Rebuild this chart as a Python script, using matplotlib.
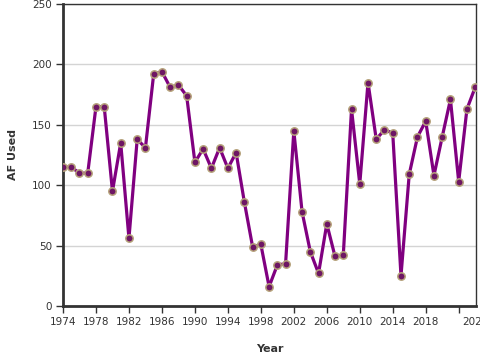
import numpy as np
import matplotlib
matplotlib.use("Agg")
import matplotlib.pyplot as plt
import matplotlib.transforms as mtransforms

years = list(range(1974, 2025))
af_used = [115, 115, 110, 110, 165, 165, 95, 135, 56, 138,
           131, 192, 194, 181, 183, 174, 119, 130, 114, 131,
           114, 127, 86, 49, 51, 16, 34, 35, 145, 78,
           45, 27, 68, 41, 42, 163, 101, 185, 138, 146,
           143, 25, 109, 140, 153, 108, 140, 171, 103, 163, 181]
xticks = list(range(1974, 2023, 4))
yticks = [0, 50, 100, 150, 200, 250]

fig = plt.figure(figsize=(4.8, 3.6), dpi=100)
ax = fig.add_axes([63/480, 1-306/360, (476-63)/480, (306-4)/360])

ax.plot(years, af_used, color="#800080", lw=2.3, zorder=3,
        marker="o", markersize=5.3, markerfacecolor="#6e1664",
        markeredgecolor="#b5a27a", markeredgewidth=1.1)

ax.set_xlim(1974, 2024.1)
ax.set_ylim(0, 250)
ax.set_xticks(xticks)
ax.set_yticks(yticks)
ax.set_xticklabels([str(x) for x in xticks])
ax.yaxis.grid(True, color="#d4d4d4", lw=1)
ax.set_axisbelow(True)

for s in ["left", "bottom"]:
    ax.spines[s].set_linewidth(2)
    ax.spines[s].set_color("#333333")
for s in ["top", "right"]:
    ax.spines[s].set_linewidth(1)
    ax.spines[s].set_color("#333333")

ax.tick_params(axis="both", length=5, width=1, color="#333333",
               labelsize=7.5, labelcolor="#333333", pad=3)

# last label shoved right like the original (clipped at the edge)
lbl = ax.get_xticklabels()[-1]
lbl.set_ha("left")
lbl.set_transform(lbl.get_transform() + mtransforms.ScaledTranslation(4/100, 0, fig.dpi_scale_trans))

ax.set_xlabel("Year", fontsize=8, fontweight="bold", color="#333333", labelpad=12)
ax.set_ylabel("AF Used", fontsize=8, fontweight="bold", color="#333333", labelpad=10)

fig.savefig("out.png", dpi=100)
